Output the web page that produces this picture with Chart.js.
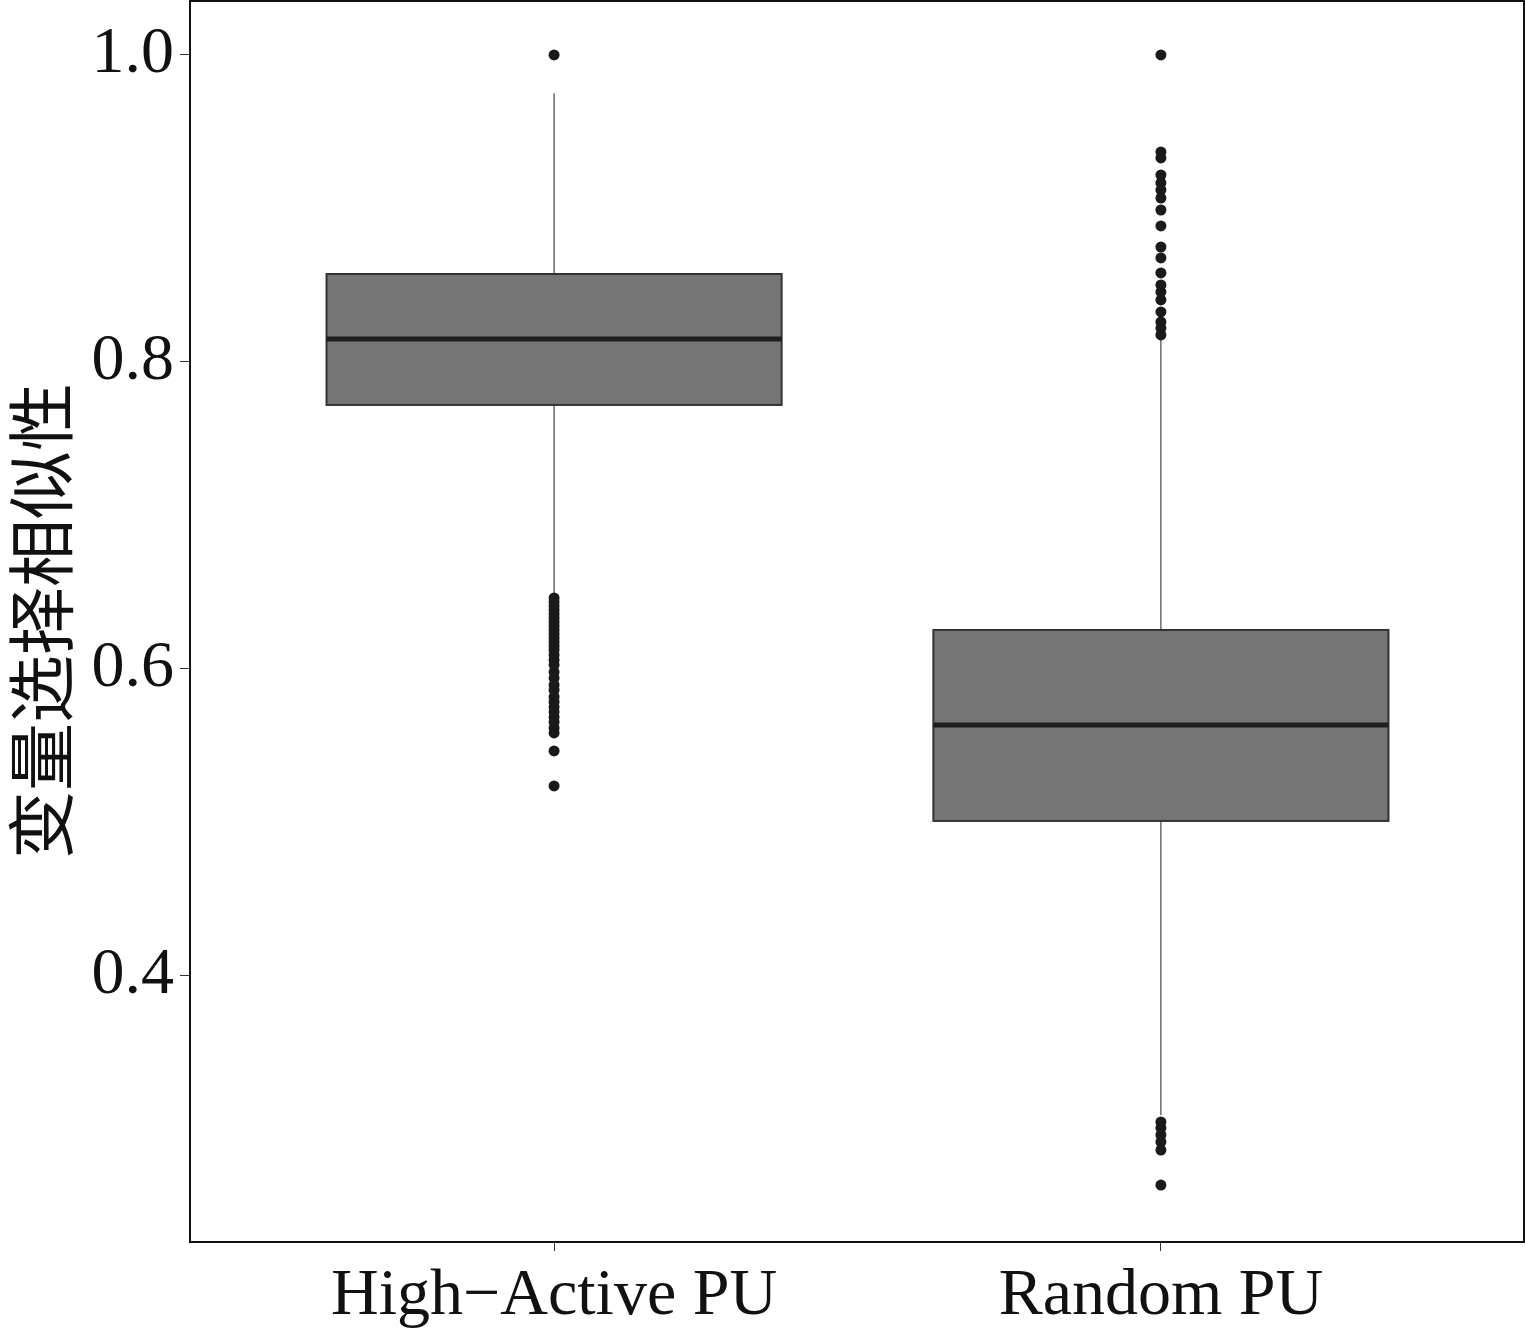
<!DOCTYPE html>
<html><head><meta charset="utf-8">
<script src="https://cdn.jsdelivr.net/npm/chart.js@4"></script>
<style>html,body{margin:0;padding:0;background:#fff}</style>
</head><body>
<canvas id="c" width="1525" height="1330"></canvas>
<script>
const categories = ['High\u2212Active PU', 'Random PU'];
const yTicks = [0.4, 0.6, 0.8, 1.0];
const whiskerLow  = [0.6475, 0.3094];
const q1          = [0.772, 0.501];
const median      = [0.815, 0.5635];
const q3          = [0.8573, 0.6254];
const whiskerHigh = [0.975, 0.8143];
const outliersHigh = [1.0, 0.6463, 0.6436, 0.6410, 0.6384, 0.6358, 0.6332, 0.6306, 0.6280, 0.6254, 0.6228, 0.6202, 0.6176, 0.6150, 0.6124, 0.6091, 0.6059, 0.6026, 0.5980, 0.5941, 0.5896, 0.5863, 0.5818, 0.5785, 0.5752, 0.5720, 0.5687, 0.5655, 0.5616, 0.5583, 0.5466, 0.5238];
const outliersRandom = [1.0, 0.9368, 0.9329, 0.9218, 0.9166, 0.9121, 0.9068, 0.8990, 0.8886, 0.8749, 0.8678, 0.8580, 0.8502, 0.8456, 0.8404, 0.8326, 0.8261, 0.8221, 0.8176, 0.3049, 0.3010, 0.2964, 0.2919, 0.2866, 0.2638];

const outlierPoints = [
  ...outliersHigh.map(v => ({x: 1, y: v})),
  ...outliersRandom.map(v => ({x: 2, y: v}))
];

const boxPlugin = {
  id: 'boxes',
  beforeDatasetsDraw(chart) {
    const ctx = chart.ctx, xs = chart.scales.x, ys = chart.scales.y;
    const half = 0.375;
    ctx.save();
    for (let i = 0; i < categories.length; i++) {
      const cx = xs.getPixelForValue(i + 1);
      const xl = xs.getPixelForValue(i + 1 - half), xr = xs.getPixelForValue(i + 1 + half);
      const yq1 = ys.getPixelForValue(q1[i]), yq3 = ys.getPixelForValue(q3[i]);
      const ym = ys.getPixelForValue(median[i]);
      ctx.strokeStyle = '#222'; ctx.lineWidth = 1;
      ctx.beginPath();
      ctx.moveTo(cx, yq3); ctx.lineTo(cx, ys.getPixelForValue(whiskerHigh[i]));
      ctx.moveTo(cx, yq1); ctx.lineTo(cx, ys.getPixelForValue(whiskerLow[i]));
      ctx.stroke();
      ctx.fillStyle = '#757575';
      ctx.fillRect(xl, yq3, xr - xl, yq1 - yq3);
      ctx.lineWidth = 2; ctx.strokeStyle = '#333';
      ctx.strokeRect(xl, yq3, xr - xl, yq1 - yq3);
      ctx.lineWidth = 5; ctx.strokeStyle = '#1e1e1e';
      ctx.beginPath(); ctx.moveTo(xl, ym); ctx.lineTo(xr, ym); ctx.stroke();
    }
    ctx.restore();
  },
  afterDraw(chart) {
    const a = chart.chartArea, ctx = chart.ctx;
    ctx.save();
    ctx.strokeStyle = '#111'; ctx.lineWidth = 2;
    ctx.strokeRect(a.left, a.top + 1, a.right - a.left - 1, a.bottom - a.top - 1);
    ctx.restore();
  }
};

new Chart(document.getElementById('c'), {
  type: 'scatter',
  data: { datasets: [{
    data: outlierPoints,
    pointRadius: 5.5, pointHoverRadius: 5.5,
    pointBackgroundColor: '#1a1a1a', pointBorderColor: '#1a1a1a', pointBorderWidth: 0
  }]},
  options: {
    responsive: false, devicePixelRatio: 1, animation: false,
    layout: { autoPadding: false, padding: { top: 0, right: 0, left: 0, bottom: 0 } },
    plugins: { legend: { display: false }, tooltip: { enabled: false } },
    scales: {
      x: {
        type: 'linear', min: 0.4, max: 2.6,
        afterBuildTicks(s) { s.ticks = categories.map((c, i) => ({ value: i + 1 })); },
        afterFit(s) { s.height = 88; s.paddingLeft = 0; s.paddingRight = 0; },
        ticks: { callback: (v) => categories[v - 1] || '', color: '#111', padding: 6, maxRotation: 0,
                 font: { family: '"Liberation Serif", "DejaVu Serif", serif', size: 66 } },
        grid: { display: true, drawOnChartArea: false, drawTicks: true, tickLength: 9, color: '#333', lineWidth: 1 },
        border: { display: false }
      },
      y: {
        type: 'linear', min: 0.2267, max: 1.0358,
        afterBuildTicks(s) { s.ticks = yTicks.map(v => ({ value: v })); },
        afterFit(s) { s.width = 190; s.paddingTop = 0; s.paddingBottom = 0; },
        ticks: { callback: (v) => v.toFixed(1), color: '#111', padding: 6,
                 font: { family: '"Liberation Serif", "DejaVu Serif", serif', size: 66 } },
        grid: { display: true, drawOnChartArea: false, drawTicks: true, tickLength: 10, color: '#333', lineWidth: 1 },
        border: { display: false },
        title: { display: true, text: '变量选择相似性', color: '#111', padding: { top: 0, bottom: 0 },
                 font: { family: '"Noto Sans CJK SC", sans-serif', size: 68 } }
      }
    }
  },
  plugins: [boxPlugin]
});
</script>
</body></html>
